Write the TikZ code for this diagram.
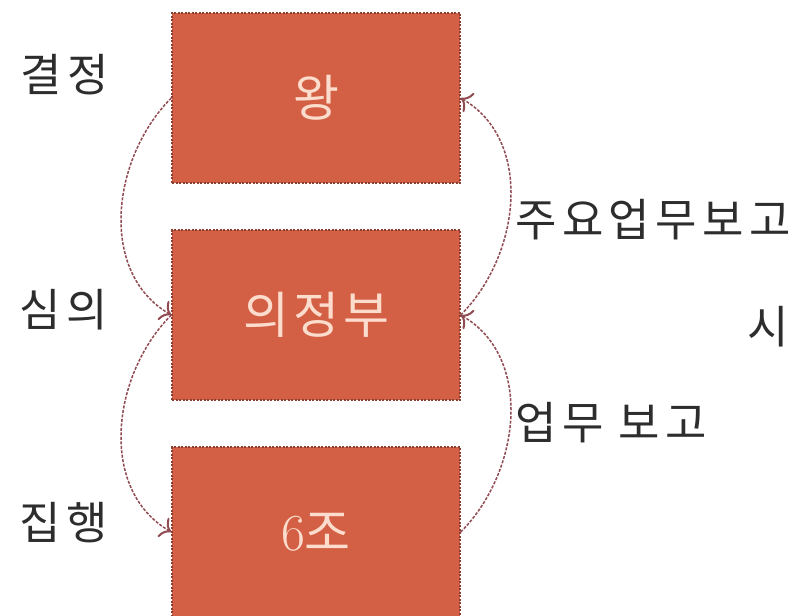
\documentclass[tikz,border=0pt]{standalone}
\usepackage{fontspec}
\newfontfamily\kr{Noto Sans CJK KR}
\usetikzlibrary{arrows.meta}
\definecolor{boxfill}{RGB}{211,96,68}
\definecolor{boxline}{RGB}{140,62,48}
\definecolor{boxtext}{RGB}{252,220,204}
\definecolor{arcc}{RGB}{145,75,82}
\definecolor{lbl}{RGB}{45,45,45}
\tikzset{
  orgbox/.style={rectangle, fill=boxfill, draw=boxline, dash pattern=on 2pt off 1.5pt, line width=1.4pt,
    minimum width=288pt, minimum height=170pt, inner sep=0pt, text=boxtext,
    font=\kr\fontsize{50}{58}\selectfont\addfontfeature{LetterSpace=8}},
  lab/.style={inner sep=0pt, text=lbl, font=\kr\fontsize{45}{52}\selectfont\addfontfeature{LetterSpace=12}},
  arcline/.style={draw=arcc, line width=1.5pt, dash pattern=on 3pt off 1.5pt,
    -{Computer Modern Rightarrow[length=10pt,width=22pt,line width=2pt]}}
}
\begin{document}
\begin{tikzpicture}[x=1pt,y=-1pt]
\clip (0,0) rectangle (794,615);
\fill[white] (0,0) rectangle (794,615);
\node[orgbox] (king) at (316,98) {왕};
\node[orgbox] (council) at (316,315) {의정부};
\node[orgbox] (six) at (316,532) {{\rmfamily\fontsize{52}{58}\selectfont 6}조};
\node[lab] (l1) at (65,75) {결정};
\node[lab] (l2) at (64,310) {심의};
\node[lab] (l3) at (64,523) {집행};
\node[lab, anchor=west] (r1) at (515,220) {주요업무보고};
\node[lab] (r2) at (768,327) {시};
\node[lab, anchor=west] (r3) at (515,423) {업무 보고};
\draw[arcline] (king.west) to[out=225,in=150] (council.west);
\draw[arcline] (council.west) to[out=225,in=150] (six.west);
\draw[arcline] (six.east) to[out=45,in=-30] (council.east);
\draw[arcline] (council.east) to[out=45,in=-30] (king.east);
\end{tikzpicture}
\end{document}
